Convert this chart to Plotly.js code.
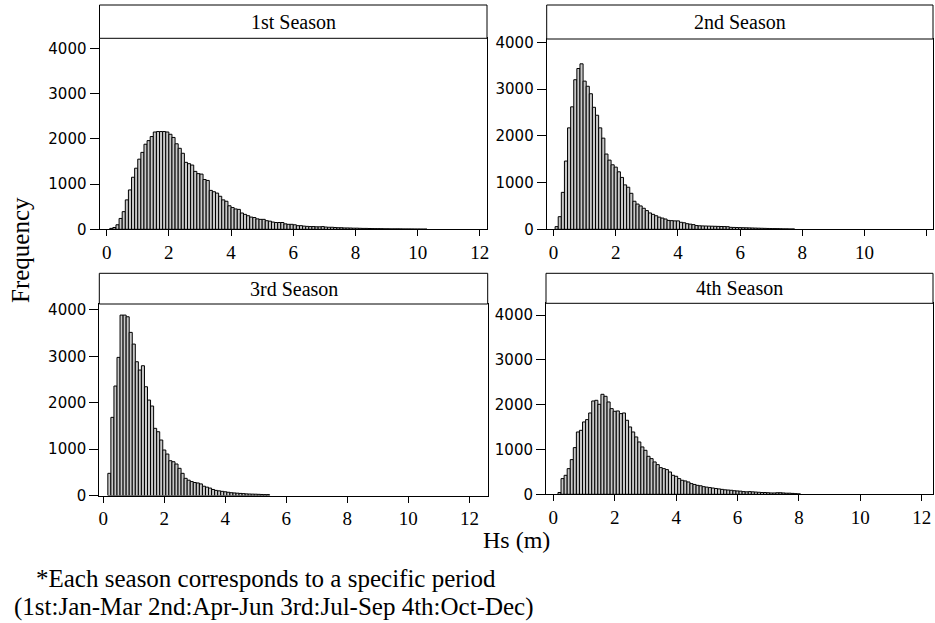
<!DOCTYPE html>
<html>
<head>
<meta charset="utf-8">
<script src="https://cdn.plot.ly/plotly-3.0.1.min.js"></script>
<style>
  html, body { margin: 0; padding: 0; background: #ffffff; }
  #chart { width: 935px; height: 623px; }
</style>
</head>
<body>
<div id="chart"></div>
<script>
// Seasonal histograms of significant wave height (Hs), 0.1 m bins.
const binWidth = 0.1;

// 1st season (Jan-Mar), first bin centre 0.15 m
const start1 = 0.15;
const freq1 = [20, 40, 100, 240, 390, 650, 870, 1150, 1350, 1550, 1700, 1880, 1960, 2050, 2150,
  2160, 2160, 2160, 2150, 2100, 2030, 1890, 1790, 1680, 1480, 1450, 1420, 1280, 1230, 1220,
  1100, 1080, 860, 830, 800, 730, 650, 620, 520, 480, 450, 440, 360, 330, 300, 270, 260, 230,
  220, 220, 190, 180, 160, 150, 150, 150, 120, 110, 110, 100, 80, 80, 70, 65, 60, 60, 55, 55,
  60, 50, 45, 45, 40, 35, 35, 30, 30, 28, 25, 25, 22, 20, 20, 18, 16, 15, 15, 14, 12, 12, 10,
  10, 10, 9, 8, 8, 8, 7, 6, 6, 5, 5];

// 2nd season (Apr-Jun), first bin centre 0.1 m
const start2 = 0.1;
const freq2 = [57, 270, 790, 1460, 2170, 2620, 3200, 3440, 3540, 3170, 3060, 2900, 2610, 2440,
  2170, 1950, 1610, 1480, 1380, 1330, 1230, 1110, 950, 900, 770, 600, 540, 500, 450, 400, 350,
  320, 290, 260, 240, 220, 190, 185, 180, 180, 150, 140, 120, 110, 100, 80, 75, 72, 70, 68, 66,
  64, 62, 60, 58, 56, 42, 40, 38, 36, 34, 32, 30, 28, 26, 24, 22, 20, 18, 16, 15, 14, 12, 10,
  10, 8, 8];

// 3rd season (Jul-Sep), first bin centre 0.2 m
const start3 = 0.2;
const freq3 = [478, 1685, 2360, 2978, 3890, 3890, 3854, 3517, 3265, 2884, 2705, 2798, 2345,
  2058, 1929, 1448, 1375, 1196, 981, 894, 750, 728, 679, 586, 478, 370, 330, 300, 280, 270, 250,
  200, 180, 160, 130, 110, 100, 90, 80, 70, 60, 55, 50, 45, 40, 35, 32, 30, 28, 25, 22, 20, 20];

// 4th season (Oct-Dec), first bin centre 0.2 m
const start4 = 0.2;
const freq4 = [40, 350, 424, 573, 774, 1042, 1391, 1428, 1615, 1667, 1815, 2083, 2098, 2009,
  2232, 2187, 2061, 1912, 1853, 1860, 1801, 1815, 1652, 1503, 1391, 1280, 1168, 1057, 982, 848,
  796, 722, 662, 595, 573, 551, 498, 424, 402, 350, 313, 298, 275, 238, 220, 200, 190, 170, 160,
  150, 140, 130, 120, 110, 100, 95, 90, 80, 75, 70, 60, 55, 60, 55, 50, 45, 40, 40, 35, 30, 30,
  35, 35, 30, 25, 25, 20, 15, 10];

const seasonTitles = ['1st Season', '2nd Season', '3rd Season', '4th Season'];
const xTicks = [0, 2, 4, 6, 8, 10, 12];
const yTicks = [0, 1000, 2000, 3000, 4000];
const xTitle = 'Hs (m)';
const yTitle = 'Frequency';
const noteLines = ['*Each season corresponds to a specific period',
  '(1st:Jan-Mar 2nd:Apr-Jun 3rd:Jul-Sep 4th:Oct-Dec)'];

// ---- page geometry (pixels) ----
const W = 935, H = 623;
const px = v => v / W;
const py = v => 1 - v / H;

// panel boxes: left, right, strip top, plot top, plot bottom; axis ranges
const panels = [
  {l: 99.5, r: 487, st: 5, t: 38.3, b: 229.3, xr: [-0.23, 12.23], yr: [0, 4221]},
  {l: 546.7, r: 933, st: 5, t: 39, b: 229.3, xr: [-0.22, 12.2], yr: [0, 4071]},
  {l: 99.3, r: 487.7, st: 273.3, t: 304, b: 495.5, xr: [-0.13, 12.6], yr: [0, 4129]},
  {l: 546, r: 933, st: 273.3, t: 303.3, b: 494.3, xr: [-0.24, 12.37], yr: [0, 4263]}
];

const series = [
  {x0: start1, y: freq1},
  {x0: start2, y: freq2},
  {x0: start3, y: freq3},
  {x0: start4, y: freq4}
];

const serif = "'Liberation Serif', 'DejaVu Serif', serif";
const sans = "'DejaVu Sans', sans-serif";

const traces = series.map((s, i) => ({
  type: 'bar',
  x0: s.x0,
  dx: binWidth,
  y: s.y,
  width: binWidth,
  xaxis: i === 0 ? 'x' : 'x' + (i + 1),
  yaxis: i === 0 ? 'y' : 'y' + (i + 1),
  marker: {color: '#c8c8c8', line: {color: '#000000', width: 1}},
  hoverinfo: 'x+y'
}));

const layout = {
  width: W, height: H,
  margin: {l: 0, r: 0, t: 0, b: 0},
  paper_bgcolor: '#ffffff',
  plot_bgcolor: '#ffffff',
  showlegend: false,
  bargap: 0,
  font: {family: serif, color: '#000'},
  shapes: [],
  annotations: []
};

panels.forEach((p, i) => {
  const k = i === 0 ? '' : String(i + 1);
  layout['xaxis' + k] = {
    domain: [px(p.l), px(p.r)],
    range: p.xr,
    anchor: 'y' + k,
    tickmode: 'array', tickvals: xTicks,
    ticks: 'outside', ticklen: 6, tickwidth: 1, tickcolor: '#000',
    showline: true, mirror: true, linecolor: '#000', linewidth: 1,
    showgrid: false, zeroline: false, fixedrange: true,
    tickfont: {family: serif, size: 19, color: '#000'}
  };
  layout['yaxis' + k] = {
    domain: [py(p.b), py(p.t)],
    range: p.yr,
    anchor: 'x' + k,
    tickmode: 'array', tickvals: yTicks,
    ticks: 'outside', ticklen: 9, tickwidth: 1, tickcolor: '#000',
    showline: true, mirror: true, linecolor: '#000', linewidth: 1,
    showgrid: false, zeroline: false, fixedrange: true,
    tickfont: {family: sans, size: 15, color: '#000'}
  };
  // title strip above each panel
  layout.shapes.push({
    type: 'rect', xref: 'paper', yref: 'paper',
    x0: px(p.l), x1: px(p.r), y0: py(p.t), y1: py(p.st),
    line: {color: '#000', width: 1}, fillcolor: '#ffffff'
  });
  layout.annotations.push({
    xref: 'paper', yref: 'paper',
    x: px((p.l + p.r) / 2), y: py((p.st + p.t) / 2),
    xanchor: 'center', yanchor: 'middle', showarrow: false,
    text: seasonTitles[i],
    font: {family: serif, size: 20, color: '#000'}
  });
});

// shared axis titles and footnote
layout.annotations.push({
  xref: 'paper', yref: 'paper', x: px(516), y: py(540),
  xanchor: 'center', yanchor: 'middle', showarrow: false,
  text: xTitle, font: {family: serif, size: 24, color: '#000'}
});
layout.annotations.push({
  xref: 'paper', yref: 'paper', x: px(20), y: py(250),
  xanchor: 'center', yanchor: 'middle', showarrow: false, textangle: -90,
  text: yTitle, font: {family: serif, size: 25, color: '#000'}
});
layout.annotations.push({
  xref: 'paper', yref: 'paper', x: px(266), y: py(578),
  xanchor: 'center', yanchor: 'middle', showarrow: false,
  text: noteLines[0], font: {family: serif, size: 25, color: '#000'}
});
layout.annotations.push({
  xref: 'paper', yref: 'paper', x: px(274), y: py(607),
  xanchor: 'center', yanchor: 'middle', showarrow: false,
  text: noteLines[1], font: {family: serif, size: 25, color: '#000'}
});

Plotly.newPlot('chart', traces, layout, {staticPlot: true, displayModeBar: false});
</script>
</body>
</html>
